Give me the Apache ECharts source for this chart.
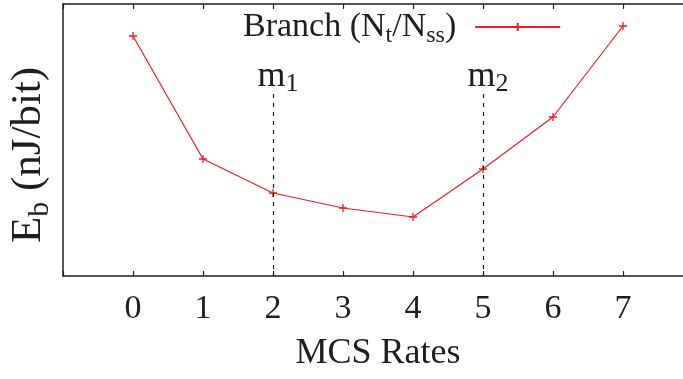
<!DOCTYPE html>
<html>
<head>
<meta charset="utf-8">
<style>
  html, body { margin: 0; padding: 0; background: #fff; }
  #chart { width: 683px; height: 379px; }
</style>
<script src="https://cdn.jsdelivr.net/npm/echarts@6/dist/echarts.min.js"></script>
</head>
<body>
<div id="chart"></div>
<script>
// MCS rate index on the x axis
const rates = [0, 1, 2, 3, 4, 5, 6, 7];
// Energy per bit for the branch configuration (arbitrary units, no y ticks shown)
const energy = [240, 117, 83, 68, 59, 107, 159, 250];
// Rates where the marker lines are drawn, with their labels
const markRates = [2, 5];
const markNames = ['1', '2'];
const markTop = 182;

const FONT = '"Liberation Serif", "Times New Roman", serif';
const INK = '#1e1e1e';
const RED = '#ee1c24';
const PLUS = 'path://M0,5L10,5M5,0L5,10';

const chart = echarts.init(document.getElementById('chart'), null, { renderer: 'canvas' });

const axisLine = { show: true, onZero: false, lineStyle: { color: INK, width: 1.5 } };

chart.setOption({
  animation: false,
  backgroundColor: '#fff',
  textStyle: { fontFamily: FONT },
  grid: { left: 63, top: 4, width: 630, height: 272, outerBoundsMode: 'none', containLabel: false },
  legend: {
    left: 238, top: 1,
    align: 'right',
    itemWidth: 85, itemHeight: 10,
    data: [{ name: 'Branch' }],
    formatter: function () { return '{m|Branch (N}{s|t}{m|/N}{s|ss}{m|)}'; },
    textStyle: {
      padding: [0, 14, 0, 0],
      rich: {
        m: { fontFamily: FONT, fontSize: 34, color: INK, lineHeight: 36 },
        s: { fontFamily: FONT, fontSize: 24, color: INK, lineHeight: 36, padding: [18, 0, 0, 0] }
      }
    }
  },
  xAxis: [{
    type: 'value', position: 'bottom',
    min: -1, max: 8, interval: 1,
    axisLine: axisLine,
    axisTick: { show: true, inside: true, length: 5, lineStyle: { color: INK, width: 1.2 } },
    splitLine: { show: false },
    axisLabel: {
      margin: 16, fontFamily: FONT, fontSize: 34, color: INK,
      formatter: function (v) { return rates.indexOf(v) >= 0 ? String(v) : ''; }
    },
    name: 'MCS Rates', nameLocation: 'middle', nameGap: 60,
    nameTextStyle: { fontFamily: FONT, fontSize: 36, color: INK }
  }, {
    type: 'value', position: 'top',
    min: -1, max: 8, interval: 1,
    axisLine: axisLine,
    axisTick: { show: true, inside: true, length: 5, lineStyle: { color: INK, width: 1.2 } },
    splitLine: { show: false },
    axisLabel: { show: false }
  }],
  yAxis: {
    type: 'value', min: 0, max: 272,
    axisLine: axisLine,
    axisTick: { show: false },
    axisLabel: { show: false },
    splitLine: { show: false },
    name: '{m|E}{s|b}{m| (nJ/bit)}', nameLocation: 'middle', nameRotate: 90, nameGap: 11,
    nameTextStyle: {
      padding: [0, 30, 0, 0],
      rich: {
        m: { fontFamily: FONT, fontSize: 43, color: INK, lineHeight: 46 },
        s: { fontFamily: FONT, fontSize: 30, color: INK, lineHeight: 46, padding: [22, 0, 0, 0] }
      }
    }
  },
  series: [{
    name: 'Branch',
    type: 'line',
    data: rates.map(function (r, i) { return [r, energy[i]]; }),
    symbol: PLUS,
    symbolSize: 8,
    showSymbol: true,
    lineStyle: { color: RED, width: 1.2 },
    itemStyle: { color: 'rgba(0,0,0,0)', borderColor: RED, borderWidth: 1.3 },
    markLine: {
      silent: true,
      symbol: ['none', 'none'],
      lineStyle: { color: INK, type: [4, 5], width: 1.2 },
      label: {
        show: true, position: 'start', distance: 0,
        formatter: function (p) { return '{m|m}{s|' + p.name + '}'; },
        padding: [0, 0, 0, 10],
        rich: {
          m: { fontFamily: FONT, fontSize: 36, color: INK, lineHeight: 34 },
          s: { fontFamily: FONT, fontSize: 26, color: INK, lineHeight: 34, padding: [14, 0, 0, 0] }
        }
      },
      data: markRates.map(function (r, i) {
        return [{ coord: [r, markTop], name: markNames[i] }, { coord: [r, 0] }];
      })
    }
  }]
});
</script>
</body>
</html>
